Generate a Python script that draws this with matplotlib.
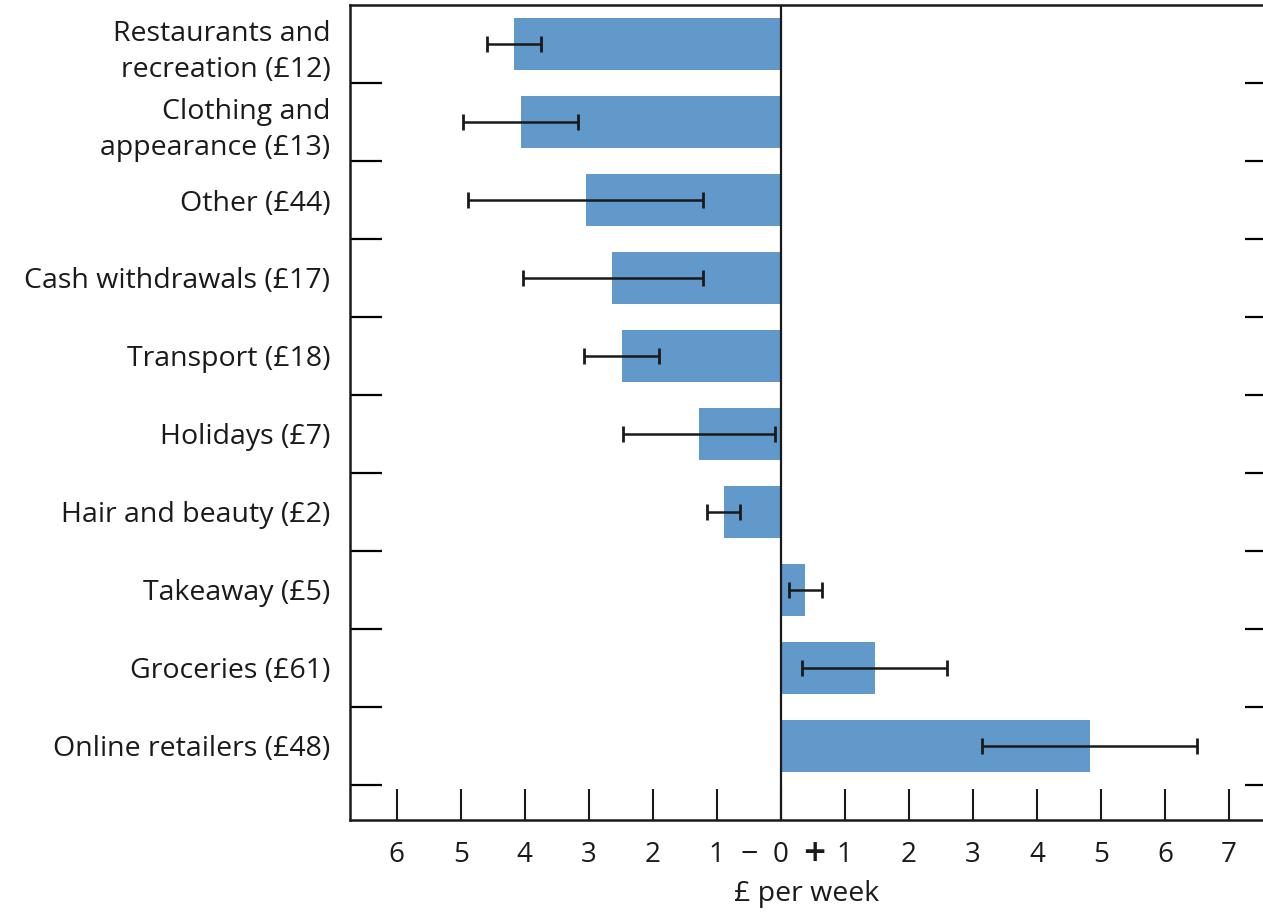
import matplotlib

matplotlib.use("Agg")
import matplotlib.pyplot as plt
import matplotlib.transforms as mtransforms

plt.rcParams["font.family"] = ["Open Sans", "DejaVu Sans"]

categories = [
    "Restaurants and\nrecreation (£12)",
    "Clothing and\nappearance (£13)",
    "Other (£44)",
    "Cash withdrawals (£17)",
    "Transport (£18)",
    "Holidays (£7)",
    "Hair and beauty (£2)",
    "Takeaway (£5)",
    "Groceries (£61)",
    "Online retailers (£48)",
]
change = [-4.17, -4.06, -3.05, -2.64, -2.48, -1.28, -0.89, 0.375, 1.47, 4.83]
err_low = [-4.59, -4.97, -4.88, -4.03, -3.08, -2.47, -1.16, 0.125, 0.33, 3.14]
err_high = [-3.75, -3.16, -1.22, -1.22, -1.91, -0.09, -0.64, 0.64, 2.59, 6.50]
xticks = [-6, -5, -4, -3, -2, -1, 0, 1, 2, 3, 4, 5, 6, 7]
xtick_labels = [str(abs(v)) for v in xticks]

BAR = "#6199cb"
INK = "#1a1a1a"

fig = plt.figure(figsize=(12.63, 9.13), dpi=100)
ax = fig.add_axes([0.277, 0.1018, 0.723, 0.8927])

ys = list(range(len(categories)))
ax.barh(ys, change, height=0.67, color=BAR, zorder=2)
xerr = [
    [c - lo for c, lo in zip(change, err_low)],
    [hi - c for c, hi in zip(change, err_high)],
]
ax.errorbar(change, ys, xerr=xerr, fmt="none", ecolor=INK, elinewidth=1.8,
            capsize=5.8, capthick=2.0, zorder=3)
ax.axvline(0, color=INK, lw=1.6, zorder=4)

ax.set_xlim(-6.73, 7.53)
ax.set_ylim(len(categories) - 0.05, -0.5)

ax.set_xticks(xticks)
ax.set_xticklabels(xtick_labels)
ax.tick_params(axis="x", direction="in", length=22, width=1.5, labelsize=20,
               pad=15, colors=INK)

# category labels at centres, tick marks at category boundaries
ax.set_yticks(ys)
ax.set_yticklabels(categories, fontsize=20.5, linespacing=1.4)
ax.tick_params(axis="y", which="major", length=0, pad=14, colors=INK)
ax.set_yticks([y + 0.5 for y in ys], minor=True)
ax.tick_params(axis="y", which="minor", direction="in", length=23, width=1.6,
               left=True, right=True)
for t in ax.yaxis.get_minor_ticks():
    t.tick2line.set_markersize(13)

trans = mtransforms.blended_transform_factory(ax.transData, ax.transAxes)
ax.text(-0.5, -0.043, "\u2212", transform=trans, ha="center", va="center",
        fontsize=22, color=INK)
ax.text(0.52, -0.043, "+", transform=trans, ha="center", va="center",
        fontsize=28, fontweight="semibold", color=INK)

ax.set_xlabel("£ per week", fontsize=20.5, labelpad=8, color=INK)

for side in ["left", "top", "bottom"]:
    ax.spines[side].set_linewidth(1.8)
    ax.spines[side].set_color(INK)
ax.spines["right"].set_visible(False)

fig.savefig("out.png", dpi=100)
